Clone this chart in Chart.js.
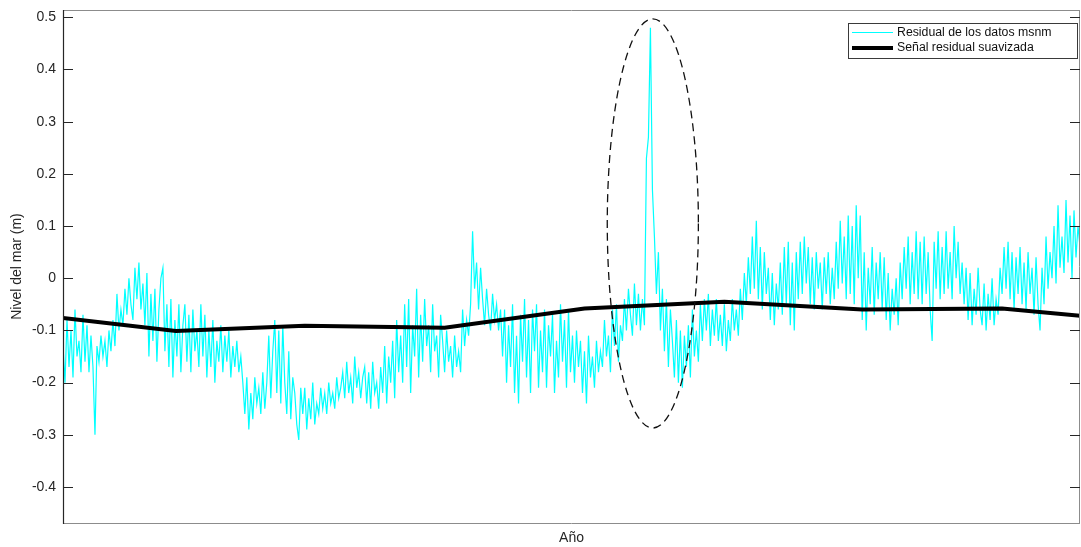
<!DOCTYPE html>
<html>
<head>
<meta charset="utf-8">
<script src="https://cdn.jsdelivr.net/npm/chart.js@4/dist/chart.umd.min.js"></script>
<style>
  html, body { margin: 0; padding: 0; background: #fff; }
  #wrap { width: 1081px; height: 547px; position: relative; }
</style>
</head>
<body>
<div id="wrap"><canvas id="grafica"></canvas></div>
<script>
// residual del nivel del mar (m), una muestra por paso
var residual = [
  -0.13,-0.20,-0.08,-0.17,-0.10,-0.19,-0.06,-0.15,-0.12,-0.18,
  -0.07,-0.16,-0.09,-0.18,-0.11,-0.17,-0.30,-0.13,-0.16,-0.11,
  -0.15,-0.12,-0.17,-0.10,-0.14,-0.08,-0.13,-0.03,-0.10,-0.06,
  -0.09,-0.02,-0.07,0.00,-0.05,-0.08,0.02,-0.04,0.03,-0.06,
  -0.01,-0.09,0.01,-0.15,-0.03,-0.12,-0.02,-0.16,-0.06,0.00,
  0.02,-0.14,-0.05,-0.17,-0.04,-0.19,-0.08,-0.15,-0.05,-0.18,
  -0.09,-0.05,-0.16,-0.07,-0.18,-0.06,-0.14,-0.10,-0.17,-0.05,
  -0.15,-0.07,-0.19,-0.10,-0.17,-0.08,-0.20,-0.12,-0.16,-0.09,
  -0.18,-0.11,-0.16,-0.10,-0.19,-0.13,-0.17,-0.12,-0.18,-0.15,
  -0.20,-0.26,-0.19,-0.29,-0.22,-0.27,-0.19,-0.24,-0.21,-0.26,
  -0.18,-0.25,-0.20,-0.11,-0.23,-0.14,-0.08,-0.22,-0.10,-0.24,
  -0.09,-0.20,-0.26,-0.14,-0.27,-0.19,-0.22,-0.28,-0.31,-0.21,
  -0.26,-0.21,-0.29,-0.23,-0.27,-0.20,-0.28,-0.24,-0.26,-0.21,
  -0.25,-0.22,-0.26,-0.20,-0.24,-0.22,-0.25,-0.19,-0.23,-0.21,
  -0.18,-0.23,-0.16,-0.22,-0.19,-0.24,-0.15,-0.21,-0.18,-0.23,
  -0.19,-0.17,-0.24,-0.18,-0.25,-0.16,-0.22,-0.20,-0.25,-0.17,
  -0.22,-0.13,-0.24,-0.15,-0.20,-0.12,-0.23,-0.08,-0.18,-0.11,
  -0.20,-0.05,-0.17,-0.04,-0.22,-0.09,-0.15,-0.02,-0.19,-0.07,
  -0.16,-0.04,-0.13,-0.09,-0.18,-0.05,-0.14,-0.11,-0.19,-0.07,
  -0.12,-0.18,-0.10,-0.16,-0.13,-0.19,-0.11,-0.17,-0.14,-0.18,
  -0.06,-0.13,-0.08,-0.11,-0.05,0.09,-0.02,0.03,-0.06,0.02,
  -0.04,-0.09,-0.02,-0.07,-0.10,-0.03,-0.08,-0.05,-0.10,-0.06,
  -0.15,-0.06,-0.20,-0.09,-0.17,-0.05,-0.22,-0.11,-0.24,-0.07,
  -0.16,-0.04,-0.19,-0.08,-0.22,-0.06,-0.14,-0.05,-0.21,-0.10,
  -0.18,-0.06,-0.21,-0.09,-0.15,-0.07,-0.22,-0.12,-0.19,-0.05,
  -0.16,-0.08,-0.21,-0.06,-0.18,-0.11,-0.20,-0.10,-0.17,-0.12,
  -0.22,-0.14,-0.24,-0.11,-0.19,-0.15,-0.21,-0.12,-0.18,-0.14,
  -0.17,-0.08,-0.15,-0.11,-0.18,-0.06,-0.13,-0.05,-0.16,-0.09,
  -0.12,-0.04,-0.10,-0.02,-0.07,-0.11,-0.01,-0.09,-0.03,-0.10,
  -0.04,-0.09,0.23,0.27,0.48,0.17,0.08,-0.03,0.05,-0.10,
  -0.02,-0.14,-0.04,-0.17,-0.06,-0.12,-0.19,-0.08,-0.20,-0.10,
  -0.21,-0.11,-0.17,-0.09,-0.19,-0.06,-0.15,-0.10,-0.16,-0.05,
  -0.12,-0.04,-0.10,-0.03,-0.13,-0.06,-0.11,-0.04,-0.12,-0.07,
  -0.13,-0.05,-0.14,-0.08,-0.12,-0.04,-0.10,-0.06,-0.11,-0.02,
  -0.08,0.01,-0.05,0.04,-0.03,0.08,-0.02,0.11,-0.04,0.06,
  -0.06,0.05,-0.03,0.02,-0.08,0.01,-0.09,-0.01,-0.06,0.03,
  -0.07,0.06,-0.05,0.07,-0.09,0.03,-0.10,0.05,-0.04,0.07,
  -0.03,0.08,-0.01,0.06,-0.05,0.04,-0.06,0.05,-0.02,0.03,
  -0.06,0.04,-0.03,0.05,-0.05,0.02,-0.04,0.07,-0.02,0.11,
  -0.01,0.08,-0.04,0.12,-0.03,0.10,-0.05,0.14,0.00,0.12,
  -0.08,0.05,-0.10,0.02,-0.05,0.06,-0.07,0.03,-0.04,0.05,
  -0.06,0.04,-0.08,0.01,-0.10,-0.02,-0.07,0.00,-0.09,0.03,
  -0.04,0.06,-0.02,0.08,-0.05,0.05,-0.03,0.09,-0.04,0.07,
  -0.05,0.08,-0.03,0.05,-0.06,-0.12,0.07,-0.02,0.09,-0.04,
  0.06,-0.03,0.09,-0.02,0.05,-0.04,0.10,0.00,0.07,-0.03,
  0.03,-0.05,0.02,-0.08,0.01,-0.09,-0.02,-0.07,0.02,-0.06,
  -0.09,-0.01,-0.10,-0.03,-0.08,0.00,-0.09,-0.04,-0.07,0.02,
  -0.03,0.06,-0.02,0.07,-0.04,0.05,-0.06,0.04,-0.03,0.06,
  -0.05,0.03,-0.06,0.05,-0.03,0.02,-0.07,0.04,-0.05,-0.10,
  0.02,-0.05,0.08,-0.02,0.05,0.00,0.10,-0.01,0.14,0.02,
  0.08,0.01,0.15,0.03,0.12,0.00,0.13,0.04,0.10,0.06
];

// señal suavizada: posicion (en muestras) y valor
var suavizadoX = [0, 56.5, 121, 191, 261, 331, 400, 470, 509];
var suavizadoY = [-0.076, -0.101, -0.091, -0.095, -0.058, -0.045, -0.060, -0.058, -0.072];

var yTicks = [-0.4, -0.3, -0.2, -0.1, 0, 0.1, 0.2, 0.3, 0.4, 0.5];
var yTickLabels = ['-0.4', '-0.3', '-0.2', '-0.1', '0', '0.1', '0.2', '0.3', '0.4', '0.5'];

var leyenda = ['Residual de los datos msnm', 'Señal residual suavizada'];

var fuente = '"Liberation Sans", Arial, Helvetica, sans-serif';
var gris = '#262626';

var puntosResidual = [];
for (var i = 0; i < residual.length; i++) {
  puntosResidual.push({ x: i, y: residual[i] });
}
var puntosSuave = [];
for (var j = 0; j < suavizadoX.length; j++) {
  puntosSuave.push({ x: suavizadoX[j], y: suavizadoY[j] });
}

// caja de ejes, marcas interiores, elipse y leyenda al estilo matlab
var marco = {
  id: 'marco',
  afterDraw: function(chart) {
    var ctx = chart.ctx;
    var a = chart.chartArea;
    var ys = chart.scales.y;
    var xs = chart.scales.x;
    ctx.save();

    // caja
    ctx.lineWidth = 1;
    ctx.strokeStyle = '#8c8c8c';
    ctx.beginPath();
    ctx.moveTo(a.left, a.top + 0.5); ctx.lineTo(a.right, a.top + 0.5);
    ctx.moveTo(a.left, a.bottom + 0.5); ctx.lineTo(a.right, a.bottom + 0.5);
    ctx.moveTo(a.right - 0.5, a.top); ctx.lineTo(a.right - 0.5, a.bottom);
    ctx.stroke();
    ctx.strokeStyle = gris;
    ctx.lineWidth = 1.2;
    ctx.beginPath();
    ctx.moveTo(a.left + 0.5, a.top); ctx.lineTo(a.left + 0.5, a.bottom + 1);
    ctx.stroke();

    // marcas en ambos lados
    ctx.lineWidth = 1;
    ctx.strokeStyle = gris;
    ctx.beginPath();
    for (var k = 0; k < yTicks.length; k++) {
      var py = Math.round(ys.getPixelForValue(yTicks[k])) + 0.5;
      ctx.moveTo(a.left, py); ctx.lineTo(a.left + 10, py);
      ctx.moveTo(a.right - 10, py); ctx.lineTo(a.right, py);
    }
    ctx.stroke();

    // elipse discontinua alrededor del pico
    var cx = xs.getPixelForValue(295.2);
    var cy = ys.getPixelForValue(0.105);
    var rx = xs.getPixelForValue(295.2 + 22.8) - cx;
    var ry = cy - ys.getPixelForValue(0.105 + 0.392);
    ctx.setLineDash([8, 5]);
    ctx.lineWidth = 1.3;
    ctx.strokeStyle = '#111';
    ctx.beginPath();
    ctx.ellipse(cx, cy, rx, ry, 0, 0, Math.PI * 2);
    ctx.stroke();
    ctx.setLineDash([]);

    // leyenda
    var lx = 848, ly = 23, lw = 229, lh = 35;
    ctx.fillStyle = '#fff';
    ctx.fillRect(lx, ly, lw, lh);
    ctx.strokeStyle = '#3a3a3a';
    ctx.lineWidth = 1;
    ctx.strokeRect(lx + 0.5, ly + 0.5, lw, lh);

    ctx.strokeStyle = '#00ffff';
    ctx.lineWidth = 1;
    ctx.beginPath();
    ctx.moveTo(852, 32.5); ctx.lineTo(893, 32.5);
    ctx.stroke();
    ctx.strokeStyle = '#000';
    ctx.lineWidth = 4;
    ctx.beginPath();
    ctx.moveTo(852, 48); ctx.lineTo(893, 48);
    ctx.stroke();

    ctx.fillStyle = '#111';
    ctx.font = '12.3px ' + fuente;
    ctx.textBaseline = 'middle';
    ctx.textAlign = 'left';
    ctx.fillText(leyenda[0], 897, 33);
    ctx.fillText(leyenda[1], 897, 48);
    ctx.restore();
  }
};

new Chart(document.getElementById('grafica'), {
  type: 'line',
  data: {
    datasets: [{
      label: leyenda[0],
      data: puntosResidual,
      borderColor: '#00ffff',
      borderWidth: 1.2,
      pointRadius: 0,
      tension: 0,
      order: 1
    }, {
      label: leyenda[1],
      data: puntosSuave,
      borderColor: '#000000',
      borderWidth: 4,
      pointRadius: 0,
      tension: 0,
      order: 0
    }]
  },
  options: {
    responsive: true,
    maintainAspectRatio: false,
    animation: false,
    layout: { padding: { top: 10, right: 1, left: 0, bottom: 0 } },
    plugins: {
      legend: { display: false },
      tooltip: { enabled: false }
    },
    scales: {
      x: {
        type: 'linear',
        min: 0,
        max: residual.length - 1,
        grid: { display: false, drawTicks: false },
        border: { display: false },
        ticks: { display: false },
        title: {
          display: true,
          text: 'Año',
          color: gris,
          font: { family: fuente, size: 14 },
          padding: { top: 0, bottom: 0 }
        },
        afterFit: function(scale) {
          scale.height = 24;
          scale.paddingLeft = 0;
          scale.paddingRight = 0;
        }
      },
      y: {
        min: -0.469,
        max: 0.514,
        grid: { display: false, drawTicks: false },
        border: { display: false },
        ticks: {
          color: gris,
          padding: 7,
          font: { family: fuente, size: 14 },
          callback: function(value) {
            var idx = yTicks.indexOf(Math.round(value * 10) / 10);
            return idx >= 0 ? yTickLabels[idx] : '';
          }
        },
        afterBuildTicks: function(scale) {
          scale.ticks = yTicks.map(function(v) { return { value: v }; });
        },
        title: {
          display: true,
          text: 'Nivel del mar (m)',
          color: gris,
          font: { family: fuente, size: 14 },
          padding: { top: 9, bottom: 0 }
        },
        afterFit: function(scale) {
          scale.width = 63;
          scale.paddingTop = 0;
          scale.paddingBottom = 0;
        }
      }
    }
  },
  plugins: [marco]
});
</script>
</body>
</html>
